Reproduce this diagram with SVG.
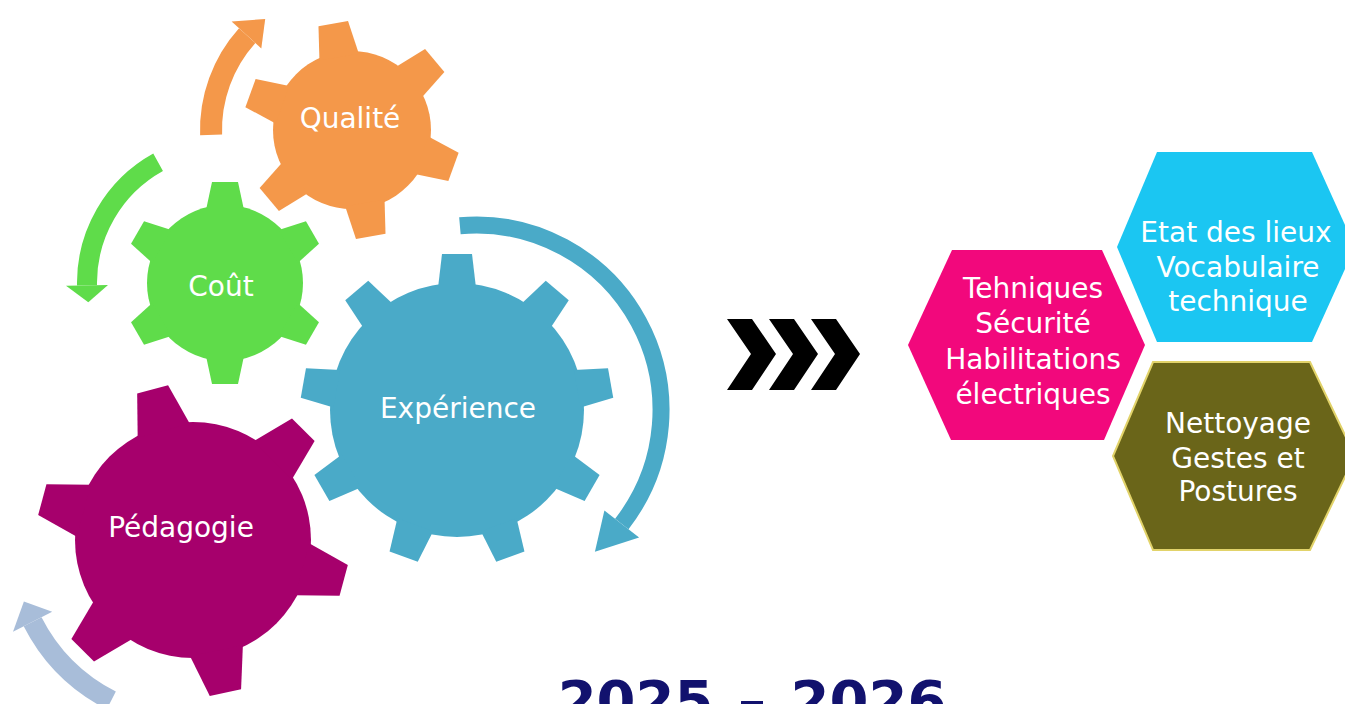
<svg xmlns="http://www.w3.org/2000/svg" width="1345" height="704" viewBox="0 0 1345 704">
  <style>
    .gtxt { font-family: "DejaVu Sans", "Liberation Sans", sans-serif; font-size: 28px; fill: #ffffff; text-anchor: middle; }
    .htxt { font-family: "DejaVu Sans", "Liberation Sans", sans-serif; font-size: 28px; fill: #ffffff; text-anchor: middle; }
    .title { font-family: "DejaVu Sans", "Liberation Sans", sans-serif; font-size: 56px; font-weight: bold; fill: #12126e; text-anchor: middle; word-spacing: 5px; }
    .band { fill: none; stroke-linecap: butt; }
  </style>
  <defs>
    <polygon id="toothO" points="-20,-74 20,-74 15,-108 -15,-108"/>
    <polygon id="toothG" points="-19,-73 19,-73 13,-101 -13,-101"/>
    <polygon id="toothB" points="-19,-122 19,-122 15,-156 -15,-156"/>
    <polygon id="toothP" points="-27,-113 27,-113 16,-156 -16,-156"/>
    <polygon id="chev" points="0,319 25,319 49,354 25,390 0,390 24,354"/>
  </defs>
  <rect width="1345" height="704" fill="#ffffff"/>

  <g id="connectors">
    <g id="arrow-qualite" fill="#f4984a" stroke="#f4984a">
      <path class="band" stroke-width="22" d="M211.1,134.9 A141,141 0 0 1 247.2,35.7"/>
      <polygon stroke="none" points="261.3,48.4 231.6,21.6 265.2,18.9"/>
    </g>
    <g id="arrow-cout" fill="#5fdc4a" stroke="#5fdc4a">
      <path class="band" stroke-width="20" d="M158.1,162.3 A138,138 0 0 0 87.0,285.4"/>
      <polygon stroke="none" points="108.0,285.0 66.0,285.8 88.3,302.2"/>
    </g>
    <g id="arrow-experience" fill="#4aaac8" stroke="#4aaac8">
      <path class="band" stroke-width="17" d="M459.9,225.7 A185,185 0 0 1 621.8,523.9"/>
      <polygon stroke="none" points="604.4,510.4 639.1,537.4 594.9,551.7"/>
    </g>
    <g id="arrow-pedagogie" fill="#a8bdd9" stroke="#a8bdd9">
      <path class="band" stroke-width="20" d="M111.3,700.4 A180,180 0 0 1 32.6,621.7"/>
      <polygon stroke="none" points="52.2,611.7 13,631.7 23.9,601.6"/>
    </g>
    <g id="arrow-chevrons" fill="#000000">
      <use href="#chev" x="727"/>
      <use href="#chev" x="769"/>
      <use href="#chev" x="811"/>
    </g>
  </g>

  <g id="node-qualite">
    <g transform="translate(352,130)" fill="#f4984a">
      <circle r="79"/>
      <use href="#toothO" transform="rotate(-10)"/>
      <use href="#toothO" transform="rotate(50)"/>
      <use href="#toothO" transform="rotate(110)"/>
      <use href="#toothO" transform="rotate(170)"/>
      <use href="#toothO" transform="rotate(230)"/>
      <use href="#toothO" transform="rotate(290)"/>
    </g>
    <text class="gtxt" x="350" y="128">Qualité</text>
  </g>

  <g id="node-cout">
    <g transform="translate(225,283)" fill="#5fdc4a">
      <circle r="78"/>
      <use href="#toothG" transform="rotate(0)"/>
      <use href="#toothG" transform="rotate(60)"/>
      <use href="#toothG" transform="rotate(120)"/>
      <use href="#toothG" transform="rotate(180)"/>
      <use href="#toothG" transform="rotate(240)"/>
      <use href="#toothG" transform="rotate(300)"/>
    </g>
    <text class="gtxt" x="221" y="296">Coût</text>
  </g>

  <g id="node-experience">
    <g transform="translate(457,410)" fill="#4aaac8">
      <circle r="127"/>
      <use href="#toothB" transform="rotate(0)"/>
      <use href="#toothB" transform="rotate(40)"/>
      <use href="#toothB" transform="rotate(80)"/>
      <use href="#toothB" transform="rotate(120)"/>
      <use href="#toothB" transform="rotate(160)"/>
      <use href="#toothB" transform="rotate(200)"/>
      <use href="#toothB" transform="rotate(240)"/>
      <use href="#toothB" transform="rotate(280)"/>
      <use href="#toothB" transform="rotate(320)"/>
    </g>
    <text class="gtxt" x="458" y="418">Expérience</text>
  </g>

  <g id="node-pedagogie">
    <g transform="translate(193,540)" fill="#a6006c">
      <circle r="118"/>
      <use href="#toothP" transform="rotate(-15)"/>
      <use href="#toothP" transform="rotate(45)"/>
      <use href="#toothP" transform="rotate(105)"/>
      <use href="#toothP" transform="rotate(168)"/>
      <use href="#toothP" transform="rotate(225)"/>
      <use href="#toothP" transform="rotate(285)"/>
    </g>
    <text class="gtxt" x="181" y="537">Pédagogie</text>
  </g>

  <g id="node-techniques">
    <polygon fill="#f2087c" points="952,250 1102,250 1145,345 1104,440 951,440 908,345"/>
    <text class="htxt" x="1033" y="298">Tehniques</text>
    <text class="htxt" x="1033" y="333">Sécurité</text>
    <text class="htxt" x="1033" y="369">Habilitations</text>
    <text class="htxt" x="1033" y="404">électriques</text>
  </g>

  <g id="node-etat">
    <polygon fill="#1bc6f2" points="1157,152 1312,152 1355,247 1312,342 1157,342 1117,247"/>
    <text class="htxt" x="1236" y="242">Etat des lieux</text>
    <text class="htxt" x="1238" y="277">Vocabulaire</text>
    <text class="htxt" x="1238" y="311">technique</text>
  </g>

  <g id="node-nettoyage">
    <polygon fill="#6a6519" stroke="#e2d36a" stroke-width="2" points="1153,362 1310,362 1355,456 1310,550 1153,550 1113,456"/>
    <text class="htxt" x="1238" y="433">Nettoyage</text>
    <text class="htxt" x="1238" y="468">Gestes et</text>
    <text class="htxt" x="1238" y="501">Postures</text>
  </g>

  <g id="title">
    <text class="title" x="752" y="720">2025 – 2026</text>
  </g>
</svg>
